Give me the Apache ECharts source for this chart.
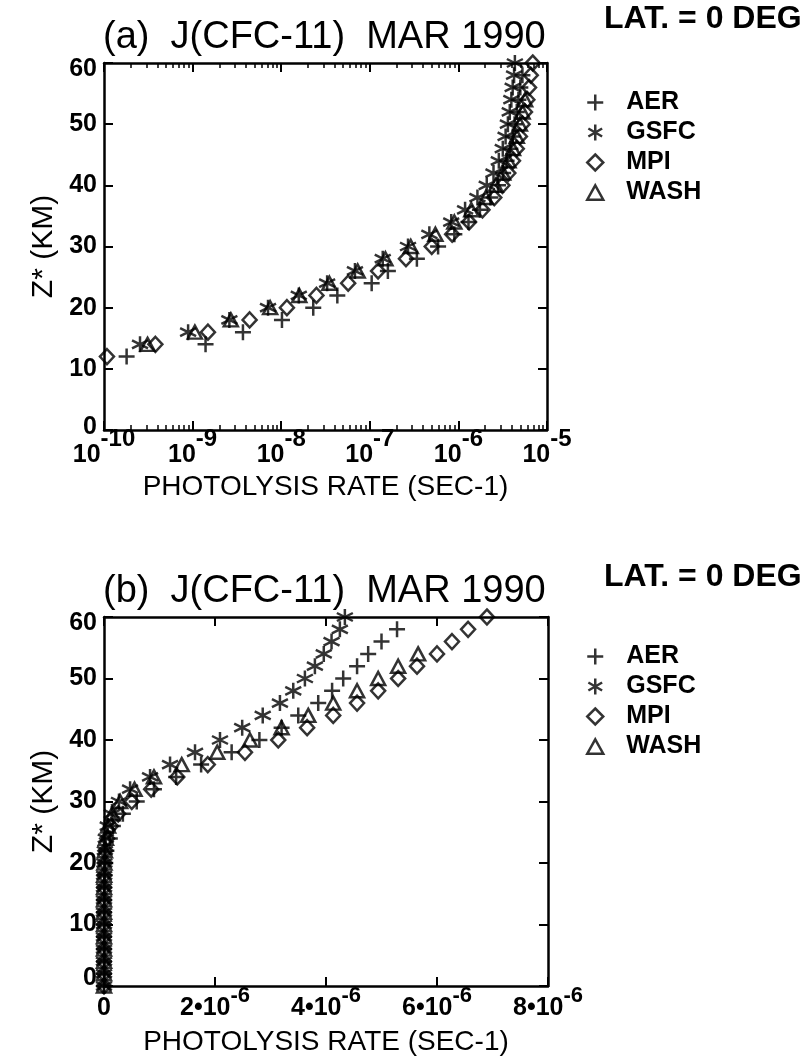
<!DOCTYPE html>
<html>
<head>
<meta charset="utf-8">
<script src="https://cdn.jsdelivr.net/npm/echarts@6/dist/echarts.min.js"></script>
<style>
  html, body { margin: 0; padding: 0; background: #fff; }
  #chart { width: 808px; height: 1059px; }
</style>
</head>
<body>
<div id="chart"></div>
<script>
// Altitude levels Z* (km) shared by all model profiles
const ALTITUDES = [0, 2, 4, 6, 8, 10, 12, 14, 16, 18, 20, 22, 24, 26, 28, 30,
                   32, 34, 36, 38, 40, 42, 44, 46, 48, 50, 52, 54, 56, 58, 60];

// J(CFC-11) photolysis rates (s-1), one value per altitude level
const J_AER = [2e-13, 6e-13, 2e-12, 6e-12, 1.6e-11, 5e-11, 1.8e-10, 1.4e-9, 3.7e-9, 1.02e-8,
               2.3e-8, 4.3e-8, 1.05e-7, 1.6e-7, 3.4e-7, 5.9e-7, 9.0e-7, 1.3e-6, 1.75e-6, 2.3e-6,
               2.8e-6, 3.2e-6, 3.5e-6, 3.86e-6, 4.11e-6, 4.31e-6, 4.56e-6, 4.76e-6, 5.0e-6, 5.28e-6, null];
const J_GSFC = [1e-13, 3e-13, 8e-13, 2e-12, 5e-12, 1.6e-11, 6e-11, 2.55e-10, 8.9e-10, 2.6e-9,
                7.1e-9, 1.58e-8, 3.3e-8, 6.8e-8, 1.4e-7, 2.7e-7, 4.7e-7, 8.3e-7, 1.19e-6, 1.64e-6,
                2.09e-6, 2.49e-6, 2.86e-6, 3.17e-6, 3.41e-6, 3.62e-6, 3.8e-6, 3.96e-6, 4.1e-6, 4.25e-6, 4.34e-6];
const J_MPI = [1e-13, 3e-13, 9e-13, 3e-12, 8e-12, 3e-11, 1.08e-10, 3.8e-10, 1.49e-9, 4.4e-9,
               1.16e-8, 2.5e-8, 5.7e-8, 1.24e-7, 2.56e-7, 5.0e-7, 8.5e-7, 1.32e-6, 1.87e-6, 2.54e-6,
               3.14e-6, 3.66e-6, 4.13e-6, 4.56e-6, 4.94e-6, 5.3e-6, 5.64e-6, 6.0e-6, 6.27e-6, 6.56e-6, 6.9e-6];
const J_WASH = [1e-13, 3e-13, 8e-13, 2e-12, 6e-12, 2e-11, 8e-11, 3.1e-10, 1.06e-9, 2.7e-9,
                7.5e-9, 1.6e-8, 3.5e-8, 7.3e-8, 1.5e-7, 2.9e-7, 5.5e-7, 9.0e-7, 1.4e-6, 2.04e-6,
                2.63e-6, 3.2e-6, 3.68e-6, 4.13e-6, 4.56e-6, 4.94e-6, 5.3e-6, 5.66e-6, null, null, null];

const MODEL_NAMES = ['AER', 'GSFC', 'MPI', 'WASH'];
const MODEL_RATES = [J_AER, J_GSFC, J_MPI, J_WASH];

// Axis ticks
const LOG_DECADES = [1e-10, 1e-9, 1e-8, 1e-7, 1e-6, 1e-5];
const LOG_MINOR_STEPS = [2, 3, 4, 5, 6, 7, 8, 9];
const LINEAR_TICKS = [0, 2e-6, 4e-6, 6e-6, 8e-6];
const ALT_TICKS = [0, 10, 20, 30, 40, 50, 60];

const LOG_MINOR_TICKS = [];
LOG_DECADES.slice(0, -1).forEach(d => LOG_MINOR_STEPS.forEach(m => LOG_MINOR_TICKS.push(d * m)));

// Marker outlines for each model
const MARKERS = {
  AER:  { symbol: 'path://M0,5L10,5M5,0L5,10', size: [16, 16] },
  GSFC: { symbol: 'path://M5,0L5,10M0.7,2.5L9.3,7.5M0.7,7.5L9.3,2.5', size: [16, 16] },
  MPI:  { symbol: 'path://M5,0L10,5L5,10L0,5Z', size: [14, 15] },
  WASH: { symbol: 'path://M5,0L10,9L0,9Z', size: [14, 13] }
};

const FONT = "'Liberation Sans', Arial, Helvetica, sans-serif";
const INK = '#000';

const GRID_A = { left: 104, top: 63, width: 443, height: 367 };
const GRID_B = { left: 104, top: 617, width: 444, height: 369 };

function expLabel(v) {
  const e = Math.round(Math.log10(v));
  return '{b|10}{s|' + e + '}';
}
function linLabel(v) {
  if (v === 0) return '{b|0}';
  const m = Math.round(v / 1e-6);
  return '{b|' + m + '•10}{s|-6}';
}

const richLog = {
  b: { fontFamily: FONT, fontSize: 25, fontWeight: 'bold', color: INK, padding: [16, 0, 0, 0] },
  s: { fontFamily: FONT, fontSize: 24, fontWeight: 'bold', color: INK, verticalAlign: 'top' }
};
const richLinear = {
  b: { fontFamily: FONT, fontSize: 25, fontWeight: 'bold', color: INK, padding: [11, 0, 0, 0] },
  s: { fontFamily: FONT, fontSize: 22, fontWeight: 'bold', color: INK, verticalAlign: 'top' }
};

const lineStyle = { color: INK, width: 2.5 };

function frameAxis(extra) {
  return Object.assign({
    axisLine: { show: true, onZero: false, lineStyle },
    axisTick: { show: true, inside: true, length: 9, lineStyle: { color: INK, width: 2 } },
    axisLabel: { show: false },
    splitLine: { show: false }
  }, extra);
}

const nameStyle = { fontFamily: FONT, fontSize: 28, color: INK };

const xAxes = [
  // panel (a): log photolysis rate
  frameAxis({
    gridIndex: 0, type: 'log', logBase: 10, min: 1e-10, max: 1e-5, position: 'bottom',
    axisTick: { show: true, inside: true, length: 9, customValues: LOG_DECADES, lineStyle: { color: INK, width: 2 } },
    axisLabel: { show: true, customValues: LOG_DECADES, margin: -3, formatter: expLabel, rich: richLog },
    name: 'PHOTOLYSIS RATE (SEC-1)', nameLocation: 'middle', nameGap: 43, nameTextStyle: nameStyle
  }),
  frameAxis({
    gridIndex: 0, type: 'log', logBase: 10, min: 1e-10, max: 1e-5, position: 'top',
    axisTick: { show: true, inside: true, length: 9, customValues: LOG_DECADES, lineStyle: { color: INK, width: 2 } }
  }),
  // minor decade ticks for panel (a)
  {
    gridIndex: 2, type: 'log', logBase: 10, min: 1e-10, max: 1e-5, position: 'bottom',
    axisLine: { show: false }, axisLabel: { show: false }, splitLine: { show: false },
    axisTick: { show: true, inside: true, length: 5, customValues: LOG_MINOR_TICKS, lineStyle: { color: INK, width: 1.5 } }
  },
  {
    gridIndex: 2, type: 'log', logBase: 10, min: 1e-10, max: 1e-5, position: 'top',
    axisLine: { show: false }, axisLabel: { show: false }, splitLine: { show: false },
    axisTick: { show: true, inside: true, length: 5, customValues: LOG_MINOR_TICKS, lineStyle: { color: INK, width: 1.5 } }
  },
  // panel (b): linear photolysis rate
  frameAxis({
    gridIndex: 1, type: 'value', min: 0, max: 8e-6, interval: 2e-6, position: 'bottom',
    axisTick: { show: true, inside: true, length: 9, customValues: LINEAR_TICKS, lineStyle: { color: INK, width: 2 } },
    axisLabel: { show: true, customValues: LINEAR_TICKS, margin: -1, formatter: linLabel, rich: richLinear },
    name: 'PHOTOLYSIS RATE (SEC-1)', nameLocation: 'middle', nameGap: 42, nameTextStyle: nameStyle
  }),
  frameAxis({
    gridIndex: 1, type: 'value', min: 0, max: 8e-6, interval: 2e-6, position: 'top',
    axisTick: { show: true, inside: true, length: 9, customValues: LINEAR_TICKS, lineStyle: { color: INK, width: 2 } }
  })
];

const altDigits = { fontFamily: FONT, fontSize: 25, fontWeight: 'bold', color: INK };

function altAxis(gridIndex, position, labelled, lowShift) {
  const ax = frameAxis({
    gridIndex, type: 'value', min: 0, max: 60, interval: 10, position,
    axisTick: { show: true, inside: true, length: 9, customValues: ALT_TICKS, lineStyle: { color: INK, width: 2 } }
  });
  if (labelled) {
    ax.axisLabel = {
      show: true, customValues: ALT_TICKS, margin: 7,
      formatter: v => (v === 60 ? '{hi|60}' : v === 0 ? '{lo|0}' : '{n|' + v + '}'),
      rich: {
        n: altDigits,
        hi: Object.assign({ padding: [12, 0, 0, 0] }, altDigits),
        lo: Object.assign({ padding: [0, 0, lowShift, 0] }, altDigits)
      }
    };
    ax.name = 'Z* (KM)';
    ax.nameLocation = 'middle';
    ax.nameGap = 42;
    ax.nameRotate = 90;
    ax.nameTextStyle = { fontFamily: FONT, fontSize: 30, color: INK };
  }
  return ax;
}

const yAxes = [
  altAxis(0, 'left', true, 6),
  altAxis(0, 'right', false, 0),
  { gridIndex: 2, type: 'value', min: 0, max: 60, show: false },
  altAxis(1, 'left', true, 16),
  altAxis(1, 'right', false, 0)
];

function profile(rates) {
  const pts = [];
  rates.forEach((j, i) => { if (j !== null) pts.push([j, ALTITUDES[i]]); });
  return pts;
}

const series = [];
[[0, 0], [4, 3]].forEach(([xi, yi]) => {
  MODEL_NAMES.forEach((name, k) => {
    const mk = MARKERS[name];
    series.push({
      type: 'scatter', name, xAxisIndex: xi, yAxisIndex: yi,
      data: profile(MODEL_RATES[k]),
      symbol: mk.symbol, symbolSize: mk.size,
      itemStyle: { color: 'rgba(0,0,0,0)', borderColor: INK, borderWidth: 2.5 },
      clip: true, silent: true, emphasis: { disabled: true }
    });
  });
});

function legendAt(top) {
  return {
    orient: 'vertical', left: 581, top, itemWidth: 16, itemHeight: 16, itemGap: 5,
    selectedMode: false, data: MODEL_NAMES,
    itemStyle: { borderColor: INK, borderWidth: 2.5 },
    textStyle: { fontFamily: FONT, fontSize: 25, fontWeight: 'bold', color: INK, padding: [0, 0, 0, 18] }
  };
}

const titleStyle = { fontFamily: FONT, fontSize: 38, fontWeight: 'normal', color: INK };
const latStyle = { fontFamily: FONT, fontSize: 32, fontWeight: 'bold', color: INK };

const chart = echarts.init(document.getElementById('chart'), null, { renderer: 'canvas' });
chart.setOption({
  animation: false,
  backgroundColor: '#fff',
  title: [
    { text: '(a)  J(CFC-11)  MAR 1990', left: 103, top: 19, textStyle: titleStyle, padding: 0 },
    { text: 'LAT. = 0 DEG', left: 604, top: 3, textStyle: latStyle, padding: 0 },
    { text: '(b)  J(CFC-11)  MAR 1990', left: 103, top: 573, textStyle: titleStyle, padding: 0 },
    { text: 'LAT. = 0 DEG', left: 604, top: 561, textStyle: latStyle, padding: 0 }
  ],
  legend: [legendAt(85), legendAt(639)],
  grid: [
    Object.assign({}, GRID_A),
    Object.assign({}, GRID_B),
    Object.assign({}, GRID_A)
  ],
  xAxis: xAxes,
  yAxis: yAxes,
  series
});
</script>
</body>
</html>
